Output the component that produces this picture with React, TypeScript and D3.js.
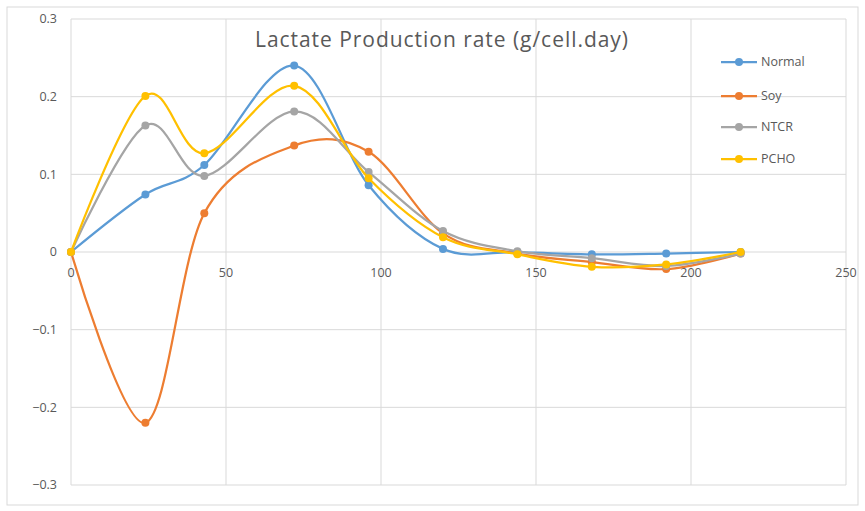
import React from "react";
import * as d3 from "d3";

const xValues = [0, 24, 43, 72, 96, 120, 144, 168, 192, 216];
const normal = [0, 0.074, 0.112, 0.24, 0.086, 0.004, 0.0, -0.003, -0.002, 0.0];
const soy = [0, -0.22, 0.05, 0.137, 0.129, 0.024, -0.002, -0.013, -0.022, -0.002];
const ntcr = [0, 0.163, 0.098, 0.181, 0.103, 0.027, 0.001, -0.008, -0.018, -0.002];
const pcho = [0, 0.201, 0.127, 0.214, 0.095, 0.019, -0.003, -0.019, -0.016, 0.0];
const seriesNames = ["Normal", "Soy", "NTCR", "PCHO"];
const seriesColors = ["#5b9bd5", "#ed7d31", "#a5a5a5", "#ffc000"];
const xTicks = [0, 50, 100, 150, 200, 250];
const yTicks = [-0.3, -0.2, -0.1, 0, 0.1, 0.2, 0.3];
const title = "Lactate Production rate (g/cell.day)";

export default function App() {
  const W = 865, H = 511;
  const x = d3.scaleLinear().domain([0, 250]).range([71, 846]);
  const y = d3.scaleLinear().domain([-0.3, 0.3]).range([485, 19]);
  const all = [normal, soy, ntcr, pcho];
  const line = d3
    .line<number>()
    .x((_, i) => x(xValues[i]))
    .y((d) => y(d))
    .curve(d3.curveCardinal.tension(0));
  const font = "'Open Sans', sans-serif";
  const legendY = [62, 96, 127, 159];
  return (
    <svg width={W} height={H} style={{ position: "absolute", left: 0, top: 0, background: "#fff" }}>
      <rect x={7} y={7} width={851} height={498} fill="#fff" stroke="#d9d9d9" />
      {yTicks.map((t) => (
        <line key={"h" + t} x1={x(0)} x2={x(250)} y1={y(t)} y2={y(t)} stroke="#d9d9d9" strokeWidth={1} />
      ))}
      {xTicks.map((t) => (
        <line key={"v" + t} x1={x(t)} x2={x(t)} y1={y(0.3)} y2={y(-0.3)} stroke="#d9d9d9" strokeWidth={1} />
      ))}
      {yTicks.map((t) => (
        <text key={"yl" + t} x={57} y={y(t)} dy="0.35em" textAnchor="end" fontSize={12.5} fill="#595959" fontFamily={font}>
          {t === 0 ? "0" : d3.format(".1f")(t)}
        </text>
      ))}
      {xTicks.map((t) => (
        <text key={"xl" + t} x={x(t)} y={y(0) + 21} dy="0.35em" textAnchor="middle" fontSize={12.5} fill="#595959" fontFamily={font}>
          {t}
        </text>
      ))}
      <text x={255} y={47} textLength={373} lengthAdjust="spacing" fontSize={21} fill="#595959" fontFamily={font}>
        {title}
      </text>
      {all.map((s, k) => (
        <g key={"s" + k}>
          <path d={line(s) || ""} fill="none" stroke={seriesColors[k]} strokeWidth={2.25} />
          {s.map((v, i) => (
            <circle key={i} cx={x(xValues[i])} cy={y(v)} r={4} fill={seriesColors[k]} />
          ))}
        </g>
      ))}
      {seriesNames.map((n, k) => (
        <g key={"lg" + n}>
          <line x1={721} x2={757} y1={legendY[k]} y2={legendY[k]} stroke={seriesColors[k]} strokeWidth={2.25} />
          <circle cx={739} cy={legendY[k]} r={4} fill={seriesColors[k]} />
          <text x={761} y={legendY[k]} dy="0.35em" fontSize={12.5} fill="#595959" fontFamily={font}>
            {n}
          </text>
        </g>
      ))}
    </svg>
  );
}
